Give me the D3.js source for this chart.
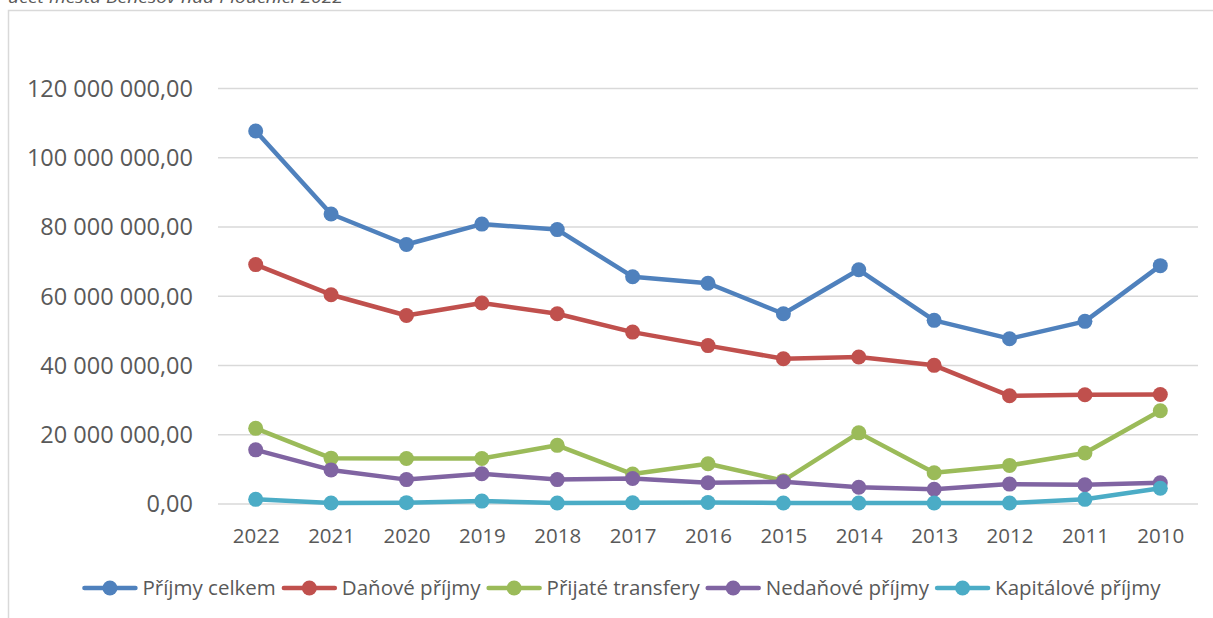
<!DOCTYPE html>
<html>
<head>
<meta charset="utf-8">
<script src="https://cdn.jsdelivr.net/npm/d3@7"></script>
<style>
    html, body { margin: 0; padding: 0; background: #fff; }
    svg { display: block; }
    text { font-family: "Open Sans", sans-serif; fill: #595959; }
</style>
</head>
<body>
<svg id="chart-prijmy"></svg>
<script>
// roky (osa x), v poradi jak jsou v grafu
var years = ["2022", "2021", "2020", "2019", "2018", "2017", "2016", "2015", "2014", "2013", "2012", "2011", "2010"];

// hodnoty v Kc
var prijmyCelkem = [107600000, 83600000, 74800000, 80700000, 79100000, 65500000, 63600000, 54800000, 67500000, 52900000, 47600000, 52600000, 68700000];
var danovePrijmy = [69000000, 60300000, 54300000, 57900000, 54800000, 49500000, 45600000, 41800000, 42300000, 39900000, 31100000, 31400000, 31500000];
var prijateTransfery = [21700000, 13100000, 13000000, 13000000, 16800000, 8500000, 11500000, 6600000, 20400000, 8900000, 11000000, 14600000, 26800000];
var nedanovePrijmy = [15500000, 9700000, 6900000, 8600000, 6900000, 7200000, 6000000, 6300000, 4700000, 4100000, 5600000, 5400000, 6000000];
var kapitalovePrijmy = [1200000, 150000, 250000, 700000, 150000, 200000, 300000, 150000, 150000, 150000, 150000, 1200000, 4400000];

var seriesNames = ["Příjmy celkem", "Daňové příjmy", "Přijaté transfery", "Nedaňové příjmy", "Kapitálové příjmy"];
var yTicks = [0, 20000000, 40000000, 60000000, 80000000, 100000000, 120000000];
var titleText = "účet města Benešov nad Ploučnicí 2022";

var colors = ["#4F81BD", "#C0504D", "#9BBB59", "#8064A2", "#4BACC6"];
var allSeries = [prijmyCelkem, danovePrijmy, prijateTransfery, nedanovePrijmy, kapitalovePrijmy];

var W = 1213, H = 618;
var margin = {top: 88, left: 218, right: 15, bottom: 114.5};
var width = W - margin.left - margin.right,
    height = H - margin.top - margin.bottom;

var cz = d3.formatLocale({decimal: ",", thousands: " ", grouping: [3], currency: ["", " Kč"]});
var fmt = cz.format(",.2f");

var root = d3.select("#chart-prijmy")
    .attr("width", W)
    .attr("height", H);

// oramovani grafu (prava a dolni hrana jsou mimo obrazek)
root.append("rect")
    .attr("x", 8.5).attr("y", 10.5)
    .attr("width", W + 20).attr("height", H + 20)
    .attr("fill", "none")
    .attr("stroke", "#d9d9d9")
    .attr("stroke-width", 1.5);

// oriznuty nadpis nahore
root.append("text")
    .attr("x", 8)
    .attr("y", 3)
    .attr("font-style", "italic")
    .attr("font-size", 17)
    .attr("textLength", 335)
    .attr("lengthAdjust", "spacingAndGlyphs")
    .text(titleText);

var svg = root.append("g")
    .attr("transform", "translate(" + margin.left + "," + margin.top + ")");

var x = d3.scalePoint()
    .domain(years)
    .range([0, width])
    .padding(0.5);

var y = d3.scaleLinear()
    .domain([0, 120000000])
    .range([height, 0]);

//mrizka + popisky osy y
var yAxis = d3.axisLeft(y)
    .tickValues(yTicks)
    .tickSize(-width)
    .tickPadding(25)
    .tickFormat(fmt);

var gy = svg.append("g").attr("class", "y axis").call(yAxis);
gy.select(".domain").remove();
gy.selectAll("line").attr("stroke", "#d9d9d9").attr("stroke-width", 1.3);
gy.selectAll("text")
    .attr("font-size", 23.5)
    .attr("fill", "#595959")
    .attr("dy", "0.36em");

// osa x
var xAxis = d3.axisBottom(x).tickSize(0).tickPadding(0);
var gx = svg.append("g")
    .attr("class", "x axis")
    .attr("transform", "translate(0," + height + ")")
    .call(xAxis);
gx.select(".domain").remove();
gx.selectAll("text")
    .attr("font-size", 20.5)
    .attr("fill", "#595959")
    .attr("dy", null)
    .attr("y", 39.5);

var line = d3.line()
    .x(function (d, i) { return x(years[i]); })
    .y(function (d) { return y(d); });

var serie = svg.selectAll(".serie")
    .data(allSeries)
    .enter().append("g")
    .attr("class", "serie");

serie.append("path")
    .attr("d", function (d) { return line(d); })
    .attr("fill", "none")
    .attr("stroke", function (d, i) { return colors[i]; })
    .attr("stroke-width", 4.5)
    .attr("stroke-linejoin", "round")
    .attr("stroke-linecap", "round");

serie.each(function (d, i) {
    d3.select(this).selectAll("circle")
        .data(d)
        .enter().append("circle")
        .attr("cx", function (v, j) { return x(years[j]); })
        .attr("cy", function (v) { return y(v); })
        .attr("r", 7.5)
        .attr("fill", colors[i]);
});

// legenda
var legend = root.append("g").attr("class", "legend");
var legY = 588, symW = 55, gapSym = 5, gapItem = 6;
var items = legend.selectAll(".leg-item")
    .data(seriesNames)
    .enter().append("g")
    .attr("class", "leg-item");

items.append("line")
    .attr("x1", 2).attr("x2", symW - 2)
    .attr("y1", legY).attr("y2", legY)
    .attr("stroke", function (d, i) { return colors[i]; })
    .attr("stroke-width", 4.5)
    .attr("stroke-linecap", "round");
items.append("circle")
    .attr("cx", symW / 2).attr("cy", legY)
    .attr("r", 7.5)
    .attr("fill", function (d, i) { return colors[i]; });
items.append("text")
    .attr("x", symW + gapSym)
    .attr("y", legY + 7)
    .attr("font-size", 20.5)
    .text(function (d) { return d; });

var widths = [];
items.each(function () {
    widths.push(symW + gapSym + d3.select(this).select("text").node().getComputedTextLength());
});
var total = d3.sum(widths) + gapItem * (widths.length - 1);
var pos = W / 2 + 15 - total / 2;
items.attr("transform", function (d, i) {
    var t = "translate(" + pos + ",0)";
    pos += widths[i] + gapItem;
    return t;
});
</script>
</body>
</html>
